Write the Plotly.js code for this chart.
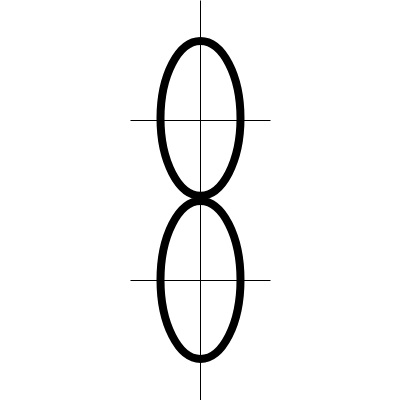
<!DOCTYPE html>
<html>
<head>
<meta charset="utf-8">
<script src="https://cdn.plot.ly/plotly-3.0.1.min.js"></script>
<style>html,body{margin:0;padding:0;background:#fff;}#chart{width:400px;height:400px;}</style>
</head>
<body>
<div id="chart"></div>
<script>
// Lobe (ellipse) extents in data units
const lobeCenterX = [0, 0];
const lobeHalfWidth = [0.5, 0.5];
const lobeBottom = [0.06, -1.98];
const lobeTop = [1.994, -0.006];
// Axis cross lines
const crossY = [1, -1];
const crossHalfLen = 0.875;
const verticalLineY = [-2.5, 2.5];

const traces = [];
traces.push({x:[0,0], y:verticalLineY, mode:'lines', line:{color:'#000', width:1}, hoverinfo:'skip', showlegend:false});
crossY.forEach(cy => {
  traces.push({x:[-crossHalfLen, crossHalfLen], y:[cy, cy], mode:'lines', line:{color:'#000', width:1}, hoverinfo:'skip', showlegend:false});
});

const shapes = lobeTop.map((top, i) => ({
  type:'circle', xref:'x', yref:'y',
  x0: lobeCenterX[i] - lobeHalfWidth[i], x1: lobeCenterX[i] + lobeHalfWidth[i],
  y0: lobeBottom[i], y1: top,
  line:{color:'#000', width:8}, fillcolor:'rgba(0,0,0,0)', layer:'above'
}));

const layout = {
  width:400, height:400,
  margin:{l:0, r:0, t:0, b:0},
  paper_bgcolor:'#fff', plot_bgcolor:'#fff',
  xaxis:{range:[-2.50625, 2.49375], visible:false, fixedrange:true},
  yaxis:{range:[-2.49375, 2.50625], visible:false, fixedrange:true},
  shapes: shapes,
  showlegend:false
};
Plotly.newPlot('chart', traces, layout, {staticPlot:true});
</script>
</body>
</html>
